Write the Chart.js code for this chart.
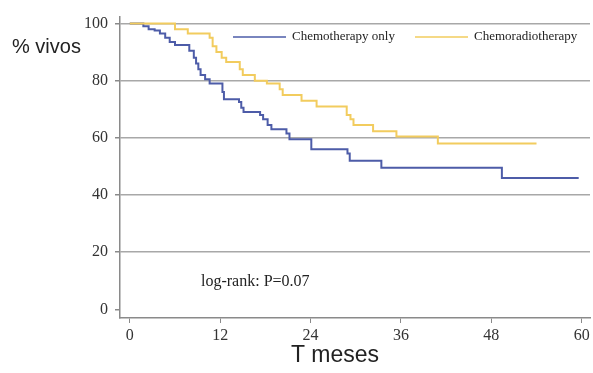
<!DOCTYPE html>
<html>
<head>
<meta charset="utf-8">
<script src="https://cdn.jsdelivr.net/npm/chart.js@4/dist/chart.umd.min.js"></script>
<style>
  html, body { margin: 0; padding: 0; background: #fff; }
  #wrap { width: 593px; height: 373px; position: relative; }
</style>
</head>
<body>
<div id="wrap"><canvas id="kmChart"></canvas></div>
<script>
// Kaplan-Meier steps (months, % alive)
const chemoMonths   = [0, 1.8, 2.5, 3.3, 4.0, 4.7, 5.3, 6.0, 7.9, 8.5, 8.8, 9.1, 9.4, 10.0, 10.6, 12.3, 12.5, 14.5, 14.8, 15.1, 17.3, 17.7, 18.3, 18.8, 20.8, 21.2, 24.1, 28.9, 29.2, 33.4, 49.4, 59.6];
const chemoSurvival = [100, 99, 98, 97.5, 96.5, 95, 93.5, 92.5, 90.5, 88, 86, 84, 82, 80.5, 79, 76, 73.5, 72.5, 70.5, 69, 68, 66.5, 64.5, 63, 61.5, 59.5, 56, 54.5, 52, 49.5, 46, 46];

const radioMonths   = [0, 6.0, 7.7, 10.6, 11.0, 11.5, 12.2, 12.8, 14.6, 15.0, 16.6, 18.2, 19.9, 20.3, 22.8, 24.8, 28.8, 29.3, 29.7, 32.3, 35.4, 40.9, 54.0];
const radioSurvival = [100, 98, 96.5, 95, 92, 90, 88, 86.5, 84, 82, 80, 79, 77, 75, 73, 71, 68, 66.5, 64.5, 62.3, 60.5, 58, 58];

const seriesNames = ['Chemotherapy only', 'Chemoradiotherapy'];
const xTicks = [0, 12, 24, 36, 48, 60];
const yTicks = [0, 20, 40, 60, 80, 100];

const BLUE = '#4d5ca8';
const GOLD = '#f2cc5e';

function toPoints(xs, ys) {
    return xs.map((x, i) => ({ x: x, y: ys[i] }));
}

// legend, y title, x title and the log-rank note
const extraText = {
    id: 'extraText',
    afterDraw(chart) {
        const ctx = chart.ctx;
        const sets = chart.data.datasets;
        ctx.save();

        // legend inside the plot
        const legendPos = [233, 415];
        sets.forEach((ds, i) => {
            const x0 = legendPos[i];
            ctx.strokeStyle = ds.borderColor;
            ctx.lineWidth = 1.5;
            ctx.beginPath();
            ctx.moveTo(x0, 37);
            ctx.lineTo(x0 + 53, 37);
            ctx.stroke();
            ctx.fillStyle = '#222';
            ctx.font = '13px "Liberation Serif", serif';
            ctx.textBaseline = 'middle';
            ctx.textAlign = 'left';
            ctx.fillText(ds.label, x0 + 59, 37);
        });

        ctx.fillStyle = '#222';
        ctx.font = '20px "Liberation Sans", Arial, sans-serif';
        ctx.textAlign = 'left';
        ctx.textBaseline = 'middle';
        ctx.fillText('% vivos', 12, 47);

        ctx.font = '23px "Liberation Sans", Arial, sans-serif';
        ctx.textAlign = 'center';
        ctx.textBaseline = 'alphabetic';
        ctx.fillText('T meses', 335, 362);

        ctx.font = '16px "Liberation Serif", serif';
        ctx.textAlign = 'left';
        ctx.textBaseline = 'middle';
        ctx.fillText('log-rank: P=0.07', 201, 282);

        ctx.restore();
    }
};

const ctx = document.getElementById('kmChart').getContext('2d');
new Chart(ctx, {
    type: 'line',
    data: {
        datasets: [
            {
                label: seriesNames[0],
                data: toPoints(chemoMonths, chemoSurvival),
                borderColor: BLUE,
                borderWidth: 2,
                stepped: true,
                pointRadius: 0,
                fill: false,
                order: 1
            },
            {
                label: seriesNames[1],
                data: toPoints(radioMonths, radioSurvival),
                borderColor: GOLD,
                borderWidth: 2,
                stepped: true,
                pointRadius: 0,
                fill: false,
                order: 0
            }
        ]
    },
    options: {
        responsive: true,
        maintainAspectRatio: false,
        animation: false,
        layout: { padding: { left: 0, right: 3, top: 12, bottom: 0 } },
        plugins: {
            legend: { display: false },
            tooltip: { enabled: false }
        },
        scales: {
            x: {
                type: 'linear',
                min: -1.3,
                max: 61.1,
                afterBuildTicks: s => { s.ticks = xTicks.map(v => ({ value: v })); },
                afterFit: s => { s.height = 55; },
                border: { color: '#8a8a8a', width: 1.5 },
                grid: { drawOnChartArea: false, drawTicks: true, tickLength: 5, tickColor: '#8a8a8a' },
                ticks: {
                    color: '#333',
                    padding: 3,
                    maxRotation: 0,
                    font: { family: '"Liberation Serif", serif', size: 16 }
                }
            },
            y: {
                min: -3,
                max: 102.4,
                afterBuildTicks: s => { s.ticks = yTicks.map(v => ({ value: v })); },
                afterFit: s => { s.width = 120; },
                border: { color: '#8a8a8a', width: 1.5 },
                grid: {
                    color: c => (c.tick && c.tick.value === 0 ? 'rgba(0,0,0,0)' : '#a8a8a8'),
                    lineWidth: 1.5,
                    tickLength: 5,
                    tickColor: '#8a8a8a'
                },
                ticks: {
                    color: '#333',
                    padding: 7,
                    font: { family: '"Liberation Serif", serif', size: 16 }
                }
            }
        }
    },
    plugins: [extraText]
});
</script>
</body>
</html>
